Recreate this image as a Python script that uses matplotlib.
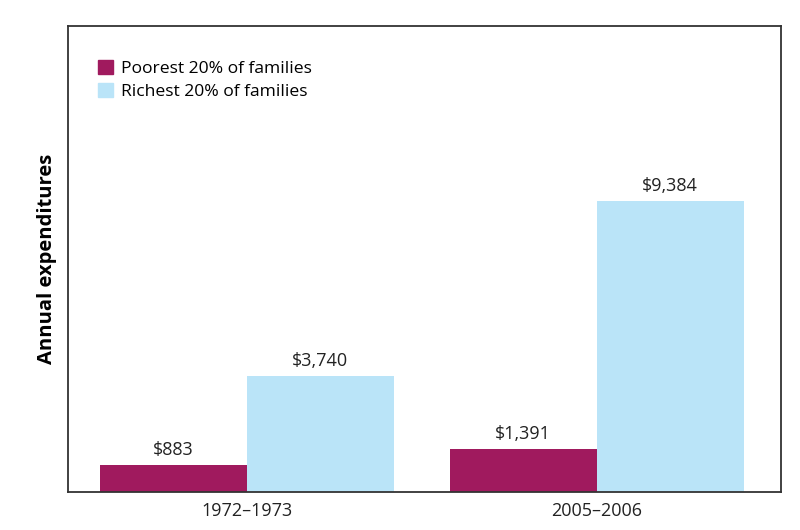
import numpy as np
import matplotlib.pyplot as plt
from matplotlib.patches import Patch

plt.rcParams['font.family'] = ['Open Sans', 'DejaVu Sans']

periods = ['1972–1973', '2005–2006']
poorest = [883, 1391]
richest = [3740, 9384]
labels = ['Poorest 20% of families', 'Richest 20% of families']
colors = ['#a01a5e', '#bae4f8']

fig = plt.figure(figsize=(8, 5.3), dpi=100)
ax = fig.add_axes([0.085, 0.0717, 0.891, 0.8793])

x = np.arange(len(periods))
w = 0.42
b1 = ax.bar(x - w / 2, poorest, w, color=colors[0])
b2 = ax.bar(x + w / 2, richest, w, color=colors[1])

for bars, vals in [(b1, poorest), (b2, richest)]:
    for bar, v in zip(bars, vals):
        ax.annotate(f'${v:,}', (bar.get_x() + bar.get_width() / 2, v),
                    xytext=(0, 4), textcoords='offset points',
                    ha='center', va='bottom', fontsize=13, color='#222222')

ax.set_xlim(-0.511, 1.526)
ax.set_ylim(0, 15030)
ax.set_xticks(x)
ax.set_xticklabels(periods, fontsize=13, color='#222222')
ax.tick_params(axis='x', length=0, pad=7)
ax.set_yticks([])
ax.set_ylabel('Annual expenditures', fontsize=14.5, fontweight='bold', labelpad=8)

for s in ax.spines.values():
    s.set_color('#333333')
    s.set_linewidth(1.3)

handles = [Patch(color=c) for c in colors]
ax.legend(handles, labels, loc='upper left', frameon=False, fontsize=12.6,
          handlelength=0.85, handleheight=0.85, handletextpad=0.45,
          labelspacing=0.3, bbox_to_anchor=(0.02, 0.96))

fig.savefig('out.png', dpi=100)
